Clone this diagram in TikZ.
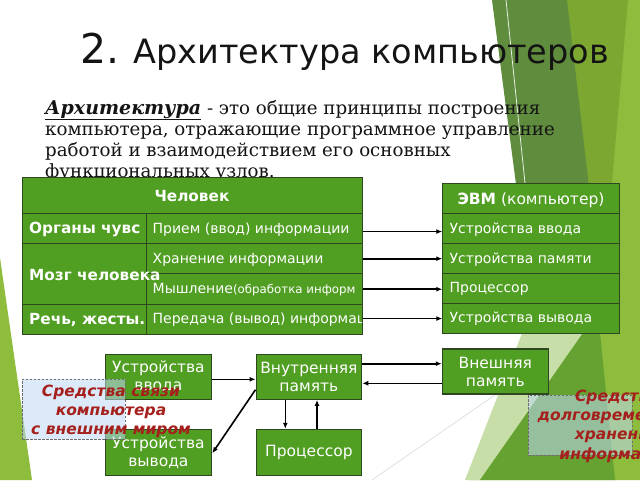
\documentclass[tikz,border=0pt]{standalone}
\usepackage{fontspec}
\setmainfont{DejaVu Serif}
\setsansfont{DejaVu Sans}
\newfontfamily\dvs{DejaVu Sans}
\usetikzlibrary{arrows.meta}
\newcommand\fsz[1]{\fontsize{#1}{#1}\selectfont}
\definecolor{boxgreen}{RGB}{80,158,34}
\definecolor{bordergreen}{RGB}{45,72,30}
\definecolor{facetDark}{RGB}{96,140,62}
\definecolor{facetMid}{RGB}{124,168,50}
\definecolor{facetLight}{RGB}{142,188,60}
\definecolor{facetPale}{RGB}{200,222,168}
\definecolor{facetGreen}{RGB}{102,162,50}
\definecolor{noteblue}{RGB}{190,216,245}
\definecolor{notegray}{RGB}{110,110,110}
\definecolor{notered}{RGB}{165,32,28}
\definecolor{titlegray}{RGB}{20,20,20}
\begin{document}
\begin{tikzpicture}[x=1pt,y=-1pt,
  cell/.style={rectangle, draw=bordergreen, fill=boxgreen, line width=1.1pt, inner sep=0pt, anchor=north west},
  ctext/.style={text=white, font=\dvs\fsz{14}, anchor=west, inner sep=0pt},
  btext/.style={text=white, font=\dvs\bfseries\fsz{15.3}, anchor=west, inner sep=0pt},
  hdtext/.style={text=white, font=\dvs\fsz{15.5}, inner sep=0pt},
  blk/.style={rectangle, draw=bordergreen, fill=boxgreen, line width=1.1pt, inner sep=0pt, text=white, align=center, font=\dvs\fsz{15.5}, execute at begin node={\setlength{\baselineskip}{18pt}}},
  arr/.style={-{Latex[length=6pt,width=5pt]}, line width=1.6pt, black},
  note/.style={rectangle, draw=notegray, dash pattern=on 2.5pt off 1.5pt, line width=0.8pt, fill=noteblue, fill opacity=0.55, inner sep=0pt},
  notetext/.style={text=notered, font=\dvs\bfseries\itshape\fsz{15.5}, align=center, inner sep=0pt, execute at begin node={\setlength{\baselineskip}{18.7pt}}},
  para/.style={anchor=base west, inner sep=0pt, font=\fsz{18.2}, text=titlegray}
]
\useasboundingbox (0,0) rectangle (640,480);
\clip (0,0) rectangle (640,480);
\fill[white] (0,0) rectangle (640,480);

% background facets
\fill[facetLight] (560,0) -- (640,0) -- (640,480) -- (470,480) -- (540,330) -- (560,250) -- cycle;
\fill[facetMid] (567,0) -- (628,0) -- (598,340) -- cycle;
\fill[facetDark] (492,0) -- (567,0) -- (600,280) -- (588,362) -- (520,215) -- cycle;
\fill[facetPale] (465,480) -- (480,480) -- (585,330) -- (535,300) -- cycle;
\fill[facetGreen] (480,480) -- (615,480) -- (600,333) -- (583,333) -- cycle;
\fill[facetLight] (0,258) -- (0,480) -- (32,480) -- cycle;
\draw[white!85!facetDark, line width=0.8pt] (506,0) -- (525,183);
\draw[black!12, line width=0.8pt] (372,480) -- (505,388);

% title
\node[anchor=base west, inner sep=0pt, text=titlegray, font=\dvs] (title) at (80,63) {\fsz{41}2.\fsz{33.5} Архитектура компьютеров};

% paragraph
\node[para] (p1) at (45,114) {{\bfseries\itshape\fsz{19}\underline{Архитектура}} - это общие принципы построения};
\node[para] (p2) at (45,135.5) {компьютера, отражающие программное управление};
\node[para] (p3) at (45,156.5) {работой и взаимодействием его основных};
\node[para] (p4) at (45,177.5) {функциональных узлов.};

% left table
\node[cell, minimum width=340pt, minimum height=36pt] (hdrL) at (22,177) {};
\node[cell, minimum width=123.7pt, minimum height=30pt] (orgL) at (22,213) {};
\node[cell, minimum width=123.7pt, minimum height=61pt] (brainL) at (22,243) {};
\node[cell, minimum width=123.7pt, minimum height=30pt] (speechL) at (22,304) {};
\node[cell, minimum width=216pt, minimum height=30pt] (r1) at (145.7,213) {};
\node[cell, minimum width=216pt, minimum height=30.3pt] (r2) at (145.7,243) {};
\node[cell, minimum width=216pt, minimum height=30.7pt] (r3) at (145.7,273.3) {};
\node[cell, minimum width=216pt, minimum height=30pt] (r4) at (145.7,304) {};

\node[hdtext, font=\dvs\bfseries\fsz{15.3}] (hdrLt) at (192,196.5) {Человек};
\begin{scope}
\clip (22,213) rectangle (145.7,243);
\node[btext] (orgLt) at (29,229.5) {Органы чувс};
\end{scope}
\node[btext] (brainLt) at (29,275) {Мозг человека};
\begin{scope}
\clip (22,304) rectangle (145.7,334);
\node[btext] (speechLt) at (29,320) {Речь, жесты.};
\end{scope}
\begin{scope}
\clip (145.7,213) rectangle (361.7,334);
\node[ctext] (r1t) at (152.5,230) {Прием (ввод) информации};
\node[ctext] (r2t) at (152.5,259.5) {Хранение информации};
\node[ctext] (r3t) at (152.5,289.5) {Мышление{\fsz{11.8}(обработка информ}};
\node[ctext] (r4t) at (152.5,320) {Передача (вывод) информац};
\end{scope}

% right table
\node[cell, minimum width=176.7pt, minimum height=30pt] (hdrR) at (442.3,182.7) {};
\node[cell, minimum width=176.7pt, minimum height=30.6pt] (c1) at (442.3,212.7) {};
\node[cell, minimum width=176.7pt, minimum height=30pt] (c2) at (442.3,243.3) {};
\node[cell, minimum width=176.7pt, minimum height=30pt] (c3) at (442.3,273.3) {};
\node[cell, minimum width=176.7pt, minimum height=30pt] (c4) at (442.3,303.3) {};
\node[hdtext] (hdrRt) at (531,200.5) {\textbf{ЭВМ} (компьютер)};
\node[ctext] (c1t) at (449.5,230) {Устройства ввода};
\node[ctext] (c2t) at (449.5,260) {Устройства памяти};
\node[ctext] (c3t) at (449.5,289.3) {Процессор};
\node[ctext] (c4t) at (449.5,319) {Устройства вывода};

% arrows between tables
\draw[arr] ([yshift=-3pt]r1.east) -- ([yshift=-3pt]r1.east -| c1.west);
\draw[arr] (r2.east) -- (r2.east -| c2.west);
\draw[arr] (r3.east) -- (r3.east -| c3.west);
\draw[arr] ([yshift=1pt]r4.east) -- ([yshift=1pt]r4.east -| c4.west);

% bottom blocks
\node[blk, minimum width=106.7pt, minimum height=45.3pt] (inDev) at (158.4,376.7) {Устройства\\ввода};
\node[blk, minimum width=105.7pt, minimum height=45.3pt] (intMem) at (308.9,376.7) {Внутренняя\\память};
\node[blk, minimum width=106.7pt, minimum height=45.7pt] (outDev) at (158.4,452.2) {Устройства\\вывода};
\node[blk, minimum width=105.7pt, minimum height=45.7pt] (cpu) at (308.9,452.2) {Процессор};
\node[blk, minimum width=106pt, minimum height=45pt] (extMem) at (495.3,371.5) {Внешняя\\память};

\draw[arr] ([yshift=-2.6pt]inDev.east) -- ([yshift=-2.6pt]inDev.east -| intMem.west);
\draw[arr] ([yshift=13pt]intMem.east) -- ([yshift=13pt]intMem.east -| extMem.west);
\draw[arr] ([yshift=-6.6pt]intMem.east -| extMem.west) -- ([yshift=-6.6pt]intMem.east);
\draw[arr] ([xshift=-23.6pt]intMem.south) -- ([xshift=-23.6pt]cpu.north);
\draw[arr] ([xshift=8.1pt]cpu.north) -- ([xshift=8.1pt]intMem.south);
\draw[arr] ([yshift=-13pt]intMem.west) -- ([yshift=-1pt]outDev.east);

% notes
\node[note, minimum width=103pt, minimum height=60pt] (noteL) at (73.5,409) {};
\node[notetext] (noteLt) at (111,411.3) {Средства связи\\компьютера\\с внешним миром};
\node[note, minimum width=104pt, minimum height=60pt] (noteR) at (580,425) {};
\node[notetext, execute at begin node={\setlength{\baselineskip}{19.4pt}}] (noteRt) at (617,426) {Средства\\долговременного\\хранения\\информации};
\end{tikzpicture}
\end{document}
